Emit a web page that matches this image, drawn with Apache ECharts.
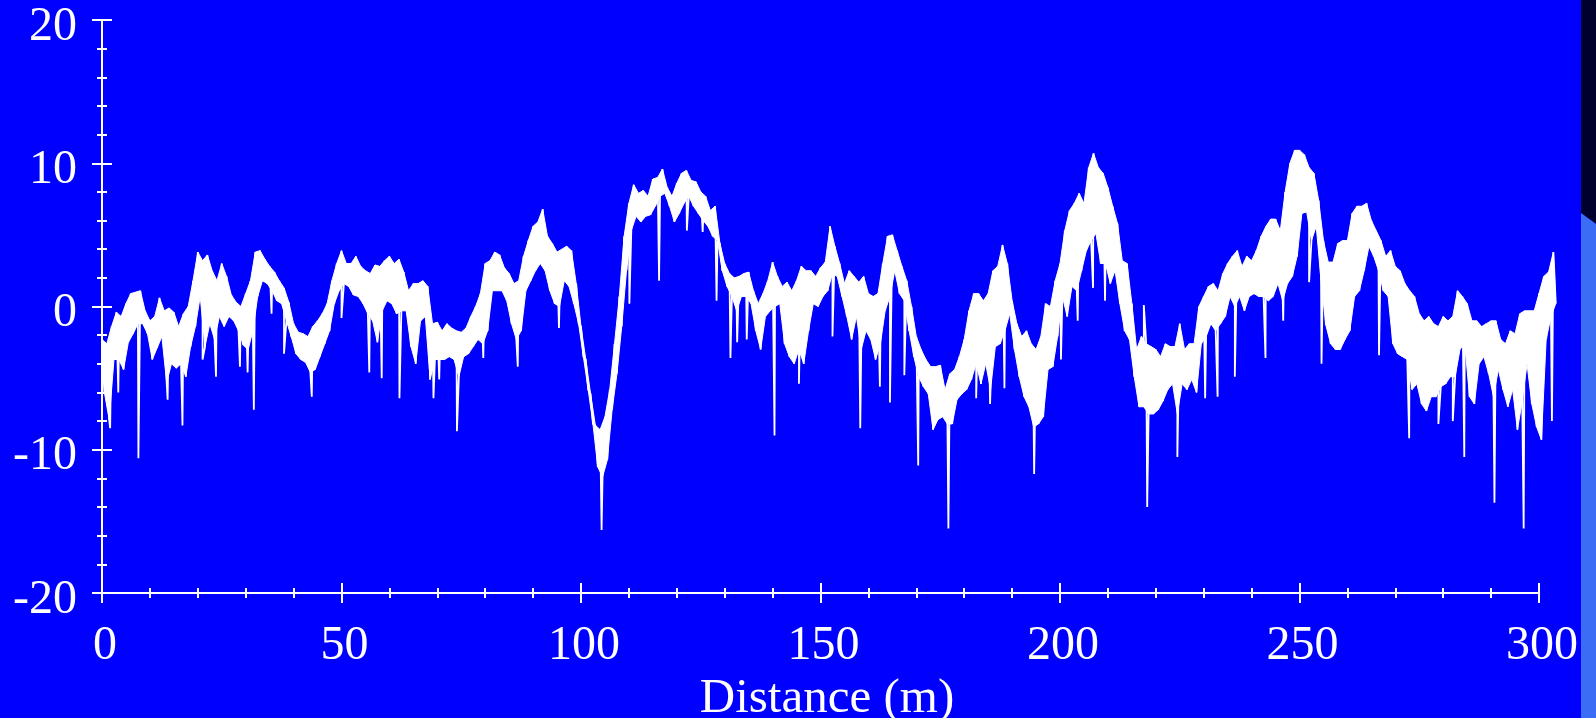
<!DOCTYPE html>
<html>
<head>
<meta charset="utf-8">
<script src="https://cdn.jsdelivr.net/npm/echarts@6/dist/echarts.min.js"></script>
<style>
html,body{margin:0;padding:0;background:#0000ff;}
#chart{width:1596px;height:718px;}
</style>
</head>
<body>
<div id="chart"></div>
<script>
// Readings from the picture (metres, value units)
const xTicks = [0, 50, 100, 150, 200, 250, 300];
const yTicks = [-20, -10, 0, 10, 20];
// Upper edge of the trace band, read at each whole metre 0..303
const upper = [
-2.3,-2.6,-1.4,-0.4,-0.7,0.2,0.9,1.0,1.1,-0.3,
-1.0,-0.7,0.6,-0.3,-0.1,-0.4,-1.4,-0.5,0.0,1.8,
3.8,3.2,3.6,2.5,1.8,3.0,2.1,0.8,0.3,0.0,
0.9,1.8,3.8,3.9,3.3,2.8,2.4,1.8,1.3,0.3,
-1.2,-1.8,-1.9,-2.1,-1.4,-1.0,-0.5,0.2,1.8,3.0,
3.9,3.0,3.0,3.5,2.8,2.5,2.3,2.9,2.8,3.2,
3.5,3.0,3.3,2.4,1.1,1.6,1.6,1.8,1.4,-1.2,
-1.1,-1.7,-1.2,-1.5,-1.7,-1.8,-1.5,-0.7,0.0,0.9,
3.0,3.2,3.8,3.6,2.7,2.3,1.6,1.8,3.5,4.6,
5.6,5.9,6.8,4.9,4.4,3.8,4.0,4.2,3.9,1.6,
-1.4,-3.7,-6.1,-8.3,-8.6,-7.7,-5.8,-2.6,0.7,4.9,
7.2,8.5,7.9,8.1,7.7,8.9,9.0,9.6,8.3,7.7,
8.6,9.3,9.5,8.8,8.7,8.0,7.7,6.7,7.0,4.4,
3.0,2.3,2.0,2.1,2.3,2.4,1.1,0.2,0.9,1.8,
3.1,2.1,1.4,1.7,1.1,1.8,2.8,2.5,2.5,2.1,
2.7,3.1,5.6,4.2,3.0,1.6,2.5,2.1,1.7,2.1,
0.9,0.7,0.9,3.0,4.9,5.0,3.9,2.8,1.8,0.0,
-2.1,-3.0,-3.7,-4.2,-4.2,-4.1,-5.8,-4.7,-4.4,-3.5,
-2.3,-0.3,0.9,0.9,0.4,0.9,2.5,2.8,4.3,3.0,
0.4,-1.2,-2.1,-1.7,-2.6,-3.0,-2.1,0.2,0.0,1.8,
3.0,5.3,6.7,7.2,7.9,7.2,9.7,10.7,9.7,9.3,
8.3,7.0,5.8,3.2,3.0,0.2,-3.0,-2.1,-2.6,-2.8,
-3.0,-3.5,-2.6,-2.8,-2.8,-1.2,-3.0,-2.6,-2.6,0.0,
0.7,1.4,1.6,1.1,2.3,3.0,3.5,3.9,2.8,3.5,
3.2,3.9,4.9,5.6,6.1,6.1,5.3,8.0,10.0,10.9,
10.9,10.6,9.7,9.3,7.4,4.6,3.1,3.1,4.4,4.6,
4.6,6.5,7.0,7.0,7.2,6.0,5.3,4.6,3.5,3.9,
2.8,2.5,1.6,1.1,0.7,-0.5,-1.0,-0.7,-1.2,-1.4,
-0.7,-1.0,-0.7,1.1,0.7,0.2,-1.0,-1.0,-1.4,-1.2,
-1.0,-1.0,-2.3,-2.6,-1.7,-1.9,-0.5,-0.3,-0.3,-0.3,
0.9,2.1,2.4,3.8
];
// Lower edge of the trace band, read half a metre after each upper reading
const lower = [
-6.0,-7.9,-3.7,-3.7,-4.4,-2.5,-1.9,-1.2,-1.2,-1.9,
-3.7,-2.9,-2.1,-5.3,-4.0,-4.3,-4.0,-4.9,-2.8,-1.4,
0.7,-2.8,-1.2,-2.3,-0.7,-1.4,-0.7,-1.0,-1.7,-2.7,
-3.0,-1.7,0.7,1.8,1.6,1.1,0.4,0.2,-1.0,-2.1,
-3.3,-3.7,-3.9,-4.6,-4.4,-3.5,-2.6,-1.7,0.2,1.1,
1.6,1.4,0.8,0.7,0.2,-0.5,-1.0,-2.5,-0.3,0.4,
0.2,-0.5,-0.3,-0.3,-2.8,-4.0,-1.0,-0.7,-5.1,-3.7,
-3.7,-3.7,-3.5,-3.7,-4.9,-3.5,-3.3,-2.8,-2.3,-2.6,
-1.7,1.1,1.1,1.1,0.4,-1.2,-2.3,-1.7,1.1,1.8,
2.5,3.0,2.5,1.1,0.2,0.0,1.8,1.4,0.2,-1.2,
-3.5,-5.8,-8.2,-11.2,-11.9,-10.7,-7.2,-4.7,-1.4,2.5,
5.3,6.3,5.9,6.3,6.4,7.0,7.7,7.9,7.0,5.9,
6.5,7.2,7.7,7.0,6.5,6.0,5.6,4.9,4.6,2.5,
1.4,0.7,-0.3,0.7,0.7,0.2,-1.7,-3.0,-0.7,-0.3,
0.0,0.2,-2.6,-3.5,-4.0,-3.0,-4.0,-1.7,0.2,0.0,
0.7,1.1,2.3,2.1,0.7,-0.7,-2.3,-0.7,-3.0,-1.7,
-2.3,-3.7,-2.6,-0.3,0.7,2.5,0.9,0.4,-1.7,-3.5,
-4.9,-5.6,-6.1,-8.6,-7.9,-7.7,-8.2,-8.2,-6.5,-6.1,
-5.8,-5.1,-4.0,-5.4,-4.0,-5.8,-2.8,-2.6,-1.7,-0.5,
-3.0,-4.9,-6.3,-7.0,-8.4,-8.2,-7.7,-4.4,-4.2,-2.1,
0.7,-0.7,1.4,1.1,2.5,3.9,4.6,5.1,3.0,3.0,
1.6,2.5,0.2,-1.7,-2.3,-4.9,-7.0,-7.0,-7.5,-7.5,
-7.2,-6.6,-5.8,-5.4,-7.5,-5.4,-5.8,-5.1,-6.0,-2.6,
-2.1,-1.2,-1.7,-1.2,-0.7,0.7,0.0,0.7,-0.3,0.7,
0.9,0.7,0.7,0.4,0.7,1.6,0.4,1.6,2.1,3.5,
6.5,6.6,4.6,5.6,1.8,-1.3,-2.6,-3.0,-3.0,-2.3,
-1.7,0.7,1.1,2.5,4.2,3.5,2.5,1.1,0.7,-2.6,
-3.3,-3.5,-3.7,-5.8,-5.4,-6.8,-7.3,-6.3,-6.3,-5.6,
-5.4,-4.9,-4.9,-3.0,-2.6,-6.3,-6.8,-4.0,-3.5,-4.7,
-6.3,-4.4,-5.8,-7.0,-5.8,-8.6,-6.6,-4.0,-6.8,-8.4,
-9.3,-2.3,-0.7,0.2
];
// Narrow spikes: distance and extreme value
const spikeX = [1.7,3.4,7.6,13.7,16.8,21.0,23.8,28.8,30.4,31.7,35.4,38.0,43.8,50.0,55.8,58.4,
62.1,69.2,70.4,74.1,79.6,86.8,95.4,104.3,110.1,116.3,122.1,125.4,128.3,131.2,132.6,134.6,
140.4,145.5,152.5,158.3,162.4,164.5,167.5,170.4,176.7,182.5,185.4,188.4,194.6,200.2,203.7,
206.9,209.4,217.5,218.2,224.5,230.3,232.9,236.5,242.9,246.6,252.0,254.6,266.6,272.9,279.0,
282.0,284.4,290.7,296.8,302.7];
const spikeY = [-8.5,-6.0,-10.6,-6.5,-8.3,-3.7,-4.9,-4.2,-4.6,-7.2,-0.5,-3.3,-6.3,-0.8,-4.6,-5.0,
-6.4,-6.4,-5.1,-8.7,-3.6,-4.2,-1.5,-15.6,0.2,1.8,5.3,5.2,0.4,-3.6,-2.5,-2.3,
-9.0,-5.4,-2.1,-8.5,-5.6,-6.7,-4.8,-11.1,-15.5,-6.4,-6.8,-5.7,-11.7,-3.7,-1.0,
1.3,0.4,0.1,-14.0,-10.5,-6.4,-6.3,-4.9,-3.6,-1.0,1.7,-4.0,-3.4,-9.2,-8.2,
-8.0,-10.5,-13.7,-15.5,-8.0];
// Last distance reached by the trace (it runs a little past the 300 m tick)
const traceEnd = 303.5;

// Zig-zag trace between upper and lower readings, spikes merged in by distance
const pts = [];
for (let i = 0; i < upper.length; i++) {
  pts.push([i, upper[i]]);
  pts.push([i + 0.5, lower[i]]);
}
for (let k = 0; k < spikeX.length; k++) pts.push([spikeX[k], spikeY[k]]);
pts.sort((a, b) => a[0] - b[0]);

// Band outline: upper readings forward, lower readings backward
const band = [];
for (let i = 0; i < upper.length; i++) band.push([i, upper[i]]);
for (let i = lower.length - 1; i >= 0; i--) band.push([i + 0.5, lower[i]]);

const FONT = "'Liberation Serif', 'Times New Roman', serif";
const WHITE = '#ffffff';
const PX_PER_M = 1437 / 300;   // 0..300 m spans the visible axis
const GRID_L = 102, GRID_R = 57, GRID_T = 20, GRID_B = 125;
const DATA_R = 1596 - GRID_L - traceEnd * PX_PER_M;

function xAxisCfg(inside, withLabels) {
  return {
    type: 'value', gridIndex: 0, position: 'bottom', min: 0, max: 300, interval: 50,
    axisLine: { show: true, onZero: false, lineStyle: { color: WHITE, width: 2 } },
    axisTick: { show: true, inside: inside, length: 10, lineStyle: { color: WHITE, width: 2 } },
    minorTick: { show: true, splitNumber: 5, length: 5, lineStyle: { color: WHITE, width: 2 } },
    splitLine: { show: false }, minorSplitLine: { show: false },
    axisLabel: withLabels ? {
      show: true, color: WHITE, fontFamily: FONT, fontSize: 48, margin: 29,
      padding: [0, 0, 0, 6],
      formatter: v => xTicks.includes(v) ? String(v) : ''
    } : { show: false },
    name: withLabels ? 'Distance (m)' : '',
    nameLocation: 'middle', nameGap: 77,
    nameTextStyle: { color: WHITE, fontFamily: FONT, fontSize: 49, padding: [0, 0, 0, 13] }
  };
}
function yAxisCfg(inside, withLabels) {
  return {
    type: 'value', gridIndex: 0, position: 'left', min: -20, max: 20, interval: 10,
    axisLine: { show: true, onZero: false, lineStyle: { color: WHITE, width: 2 } },
    axisTick: { show: true, inside: inside, length: 10, lineStyle: { color: WHITE, width: 2 } },
    minorTick: { show: true, splitNumber: 5, length: 5, lineStyle: { color: WHITE, width: 2 } },
    splitLine: { show: false }, minorSplitLine: { show: false },
    axisLabel: withLabels ? {
      show: true, color: WHITE, fontFamily: FONT, fontSize: 48, margin: 25,
      lineHeight: 14,
      formatter: v => yTicks.includes(v) ? '\n' + v : ''
    } : { show: false }
  };
}

const chart = echarts.init(document.getElementById('chart'), null, { renderer: 'canvas' });
chart.setOption({
  backgroundColor: '#0000ff',
  animation: false,
  grid: [
    { left: GRID_L, right: GRID_R, top: GRID_T, bottom: GRID_B, containLabel: false, outerBoundsMode: 'none' },
    { left: GRID_L, right: DATA_R, top: GRID_T, bottom: GRID_B, containLabel: false, outerBoundsMode: 'none' }
  ],
  xAxis: [
    xAxisCfg(false, true), xAxisCfg(true, false),
    { type: 'value', gridIndex: 1, min: 0, max: traceEnd, show: false }
  ],
  yAxis: [
    yAxisCfg(false, true), yAxisCfg(true, false),
    { type: 'value', gridIndex: 1, min: -20, max: 20, show: false }
  ],
  series: [
    {
      type: 'custom', xAxisIndex: 2, yAxisIndex: 2, data: [[0, 0]], clip: false,
      renderItem: (params, api) => ({
        type: 'polygon',
        shape: { points: band.map(p => api.coord(p)) },
        style: { fill: WHITE, stroke: WHITE, lineWidth: 1 }
      }),
      silent: true, z: 2
    },
    {
      type: 'line', xAxisIndex: 2, yAxisIndex: 2, data: pts,
      symbol: 'none', clip: false, smooth: false,
      lineStyle: { color: WHITE, width: 1.8 }, z: 3
    }
  ],
  graphic: [
    { type: 'polygon', shape: { points: [[1581, 0], [1596, 0], [1596, 224], [1581, 213]] }, style: { fill: '#00002e' }, silent: true },
    { type: 'polygon', shape: { points: [[1581, 213], [1596, 224], [1596, 718], [1581, 718]] }, style: { fill: '#3b6cf5' }, silent: true }
  ]
});
</script>
</body>
</html>
